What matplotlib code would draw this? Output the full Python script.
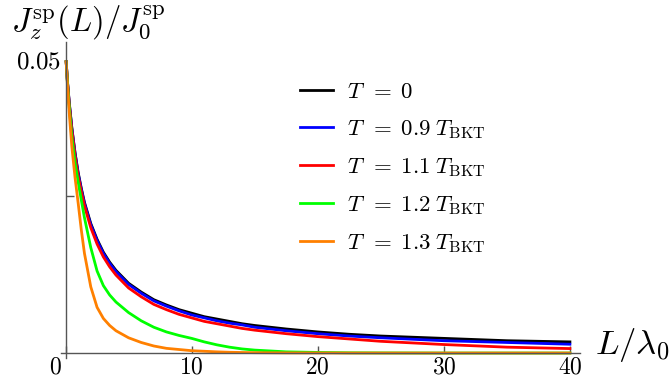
import numpy as np
import matplotlib
matplotlib.use("Agg")
import matplotlib.pyplot as plt
import matplotlib.transforms as mtransforms

plt.rcParams["mathtext.fontset"] = "cm"
plt.rcParams["font.family"] = "serif"
plt.rcParams["font.serif"] = ["DejaVu Serif"]

# L / lambda_0
L = [0.05, 0.15, 0.3, 0.5, 0.75, 1, 1.25, 1.5, 2, 2.5, 3, 3.5, 4, 5, 6, 7, 8, 9, 10,
     11, 12, 13, 14, 15, 17.5, 20, 22.5, 25, 30, 35, 40]

j_t0 = [0.0497, 0.0464, 0.0426, 0.0384, 0.0342, 0.0308, 0.0281, 0.0257, 0.0221, 0.0194, 0.0172,
        0.0155, 0.0141, 0.0119, 0.0104, 0.0091, 0.0082, 0.0074, 0.0068, 0.0062, 0.0058, 0.0054,
        0.0050, 0.0047, 0.0041, 0.0036, 0.0032, 0.0029, 0.0025, 0.0021, 0.0019]
j_t09 = [0.0497, 0.0463, 0.0425, 0.0383, 0.0341, 0.0306, 0.0279, 0.0255, 0.0219, 0.0192, 0.0170,
         0.0153, 0.0139, 0.0117, 0.0102, 0.0089, 0.0080, 0.0072, 0.0065, 0.0060, 0.0055, 0.0051,
         0.0048, 0.0044, 0.0038, 0.0033, 0.0029, 0.0026, 0.0021, 0.0018, 0.0015]
j_t11 = [0.0497, 0.0463, 0.0423, 0.0380, 0.0337, 0.0302, 0.0275, 0.0251, 0.0214, 0.0186, 0.0164,
         0.0147, 0.0133, 0.0111, 0.0096, 0.0083, 0.0074, 0.0066, 0.0060, 0.0054, 0.0050, 0.0046,
         0.0042, 0.0039, 0.0033, 0.0028, 0.0024, 0.0020, 0.00145, 0.0010, 0.00076]
j_t12 = [0.0497, 0.0461, 0.0418, 0.0368, 0.0325, 0.0292, 0.0261, 0.0231, 0.0180, 0.0140, 0.0115,
         0.0099, 0.0087, 0.0069, 0.0055, 0.0044, 0.0036, 0.0030, 0.0025, 0.0019, 0.0014, 0.0010,
         0.0007, 0.0005, 0.0002, 0.0001, 0.00004, 0.00002, 0.0, 0.0, 0.0]
j_t13 = [0.0497, 0.0458, 0.0408, 0.0352, 0.0300, 0.0256, 0.0210, 0.0170, 0.0113, 0.0078, 0.0059,
         0.0047, 0.0038, 0.0026, 0.0018, 0.0012, 0.0008, 0.0006, 0.0004, 0.0003, 0.0002, 0.00013,
         0.00009, 0.00006, 0.00002, 0.00001, 0.0, 0.0, 0.0, 0.0, 0.0]

series = [j_t0, j_t09, j_t11, j_t12, j_t13]
labels = [r"$T\;\,=\;0$", r"$T\;\,=\;0.9\;T_{\rm BKT}$", r"$T\;\,=\;1.1\;T_{\rm BKT}$",
          r"$T\;\,=\;1.2\;T_{\rm BKT}$", r"$T\;\,=\;1.3\;T_{\rm BKT}$"]
colors = ["#000000", "#0000ff", "#ff0000", "#00ff00", "#ff8000"]

xticks = [0, 10, 20, 30, 40]
xticklabels = [r"$0$", r"$10$", r"$20$", r"$30$", r"$40$"]

W, H = 670, 383
fig = plt.figure(figsize=(W / 100, H / 100), dpi=100)
ax = fig.add_axes([60.5 / W, 1 - 358.3 / H, (580 - 60.5) / W, (358.3 - 42.4) / H])

for y, lab, c in zip(series, labels, colors):
    ax.plot(L, y, color=c, lw=2.0, label=lab)

ax.set_xlim(-0.4, 40.8)
ax.set_ylim(-0.0009, 0.053)

for s in ["top", "right"]:
    ax.spines[s].set_visible(False)
ax.spines["left"].set_position(("data", 0))
ax.spines["bottom"].set_position(("data", 0))
for s in ["left", "bottom"]:
    ax.spines[s].set_color("#555555")
    ax.spines[s].set_linewidth(1.0)

ax.set_xticks(xticks)
ax.set_xticklabels(xticklabels, fontsize=17)
ax.tick_params(axis="x", direction="in", length=5, width=1.0, color="#555555", pad=2)
# origin label sits left of the axis crossing
lab0 = ax.get_xticklabels()[0]
lab0.set_transform(lab0.get_transform() + mtransforms.ScaledTranslation(-10 / 100, 0, fig.dpi_scale_trans))

ax.set_yticks([0.05])
ax.set_yticklabels([r"$0.05$"], fontsize=18)
ax.set_yticks([0.0268], minor=True)
ax.tick_params(axis="y", which="major", direction="in", length=0, pad=3)
ax.tick_params(axis="y", which="minor", direction="in", length=6, width=1.0, color="#555555")

fig.text(11 / W, 1 - 32 / H, r"$J_z^{\rm sp}(L)/J_0^{\rm sp}$", fontsize=23.5, va="baseline", ha="left")
fig.text(595 / W, 1 - 354 / H, r"$L/\lambda_0$", fontsize=25, va="baseline", ha="left")

ax.legend(loc="upper left", bbox_to_anchor=(300 / W, 1 - 81 / H), bbox_transform=fig.transFigure,
          frameon=False, fontsize=16.5, handlelength=1.45, handletextpad=0.6, labelspacing=0.66,
          borderaxespad=0, borderpad=0)

fig.savefig("out.png", dpi=100)
